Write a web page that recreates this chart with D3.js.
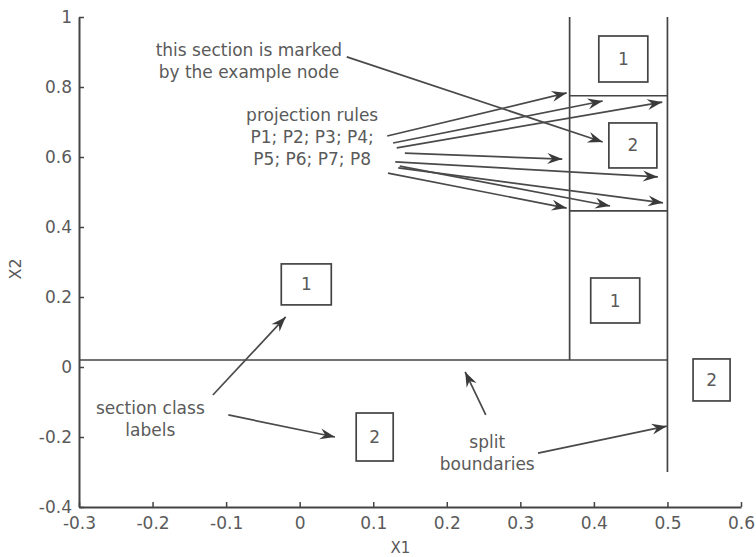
<!DOCTYPE html>
<html>
<head>
<meta charset="utf-8">
<script src="https://cdn.jsdelivr.net/npm/d3@7"></script>
<style>
  html, body { margin: 0; padding: 0; background: #ffffff; }
  svg { display: block; }
  text { font-family: "DejaVu Sans", "Liberation Sans", sans-serif; }
</style>
</head>
<body>
<svg id="chart" width="756" height="557"></svg>
<script>
// ---------------- data ----------------
const xTicks = [-0.3, -0.2, -0.1, 0, 0.1, 0.2, 0.3, 0.4, 0.5, 0.6];
const yTicks = [-0.4, -0.2, 0, 0.2, 0.4, 0.6, 0.8, 1];

// split boundaries: [x1, y1, x2, y2] in data units
const boundaries = [
  [-0.3, 0.02, 0.5, 0.02],
  [0.367, 0.02, 0.367, 1.0],
  [0.5, -0.3, 0.5, 1.0],
  [0.367, 0.775, 0.5, 0.775],
  [0.367, 0.446, 0.5, 0.446]
];

// section class labels: centre [x, y] and label
const classLabelX = [0.440, 0.453, 0.009, 0.429, 0.560, 0.102];
const classLabelY = [0.880, 0.633, 0.236, 0.190, -0.037, -0.200];
const classLabelText = ["1", "2", "1", "1", "2", "2"];

// annotation texts (centre x, y of first line)
const noteText = [
  ["this section is marked", "by the example node"],
  ["projection rules", "P1; P2; P3; P4;", "P5; P6; P7; P8"],
  ["section class", "labels"],
  ["split", "boundaries"]
];
const noteX = [-0.069, 0.017, -0.203, 0.255];
const noteY = [0.906, 0.720, -0.117, -0.214];

// annotation arrows: [x1, y1, x2(tip), y2(tip)]
const arrows = [
  [0.064, 0.886, 0.412, 0.643],
  [0.119, 0.660, 0.363, 0.783],
  [0.127, 0.640, 0.412, 0.760],
  [0.132, 0.626, 0.493, 0.757],
  [0.143, 0.611, 0.357, 0.594],
  [0.130, 0.586, 0.487, 0.543],
  [0.134, 0.569, 0.494, 0.469],
  [0.136, 0.574, 0.422, 0.460],
  [0.120, 0.554, 0.363, 0.454],
  [-0.118, -0.080, -0.019, 0.143],
  [-0.097, -0.137, 0.048, -0.200],
  [0.253, -0.137, 0.225, -0.014],
  [0.324, -0.246, 0.499, -0.169]
];

// ---------------- layout ----------------
const boxW = [49, 48, 50, 49, 37, 37];
const boxH = [46, 45, 41, 45, 42, 48];
const lineCol = "#444444";
const textCol = "#5a5a5a";
const fs = 17;

const svg = d3.select("#chart");
const x = d3.scaleLinear().domain([-0.3, 0.6]).range([79, 741]);
const y = d3.scaleLinear().domain([-0.4, 1]).range([507, 17]);

const fmt = d => String(+d.toFixed(1));

// arrow marker
svg.append("defs").append("marker")
  .attr("id", "ah")
  .attr("markerUnits", "userSpaceOnUse")
  .attr("viewBox", "-16 -7 17 14")
  .attr("refX", 0).attr("refY", 0)
  .attr("markerWidth", 17).attr("markerHeight", 14)
  .attr("orient", "auto")
  .append("path")
  .attr("d", "M0,0 L-15,-5.5 L-10,0 L-15,5.5 Z")
  .attr("fill", "#3a3a3a");

// axes
const gx = svg.append("g").attr("transform", `translate(0,${y(-0.4)})`)
  .call(d3.axisBottom(x).tickValues(xTicks).tickFormat(fmt)
    .tickSizeInner(-5).tickSizeOuter(0).tickPadding(10));
const gy = svg.append("g").attr("transform", `translate(${x(-0.3)},0)`)
  .call(d3.axisLeft(y).tickValues(yTicks).tickFormat(fmt)
    .tickSizeInner(-5).tickSizeOuter(0).tickPadding(7));
[gx, gy].forEach(g => {
  g.select(".domain").attr("stroke", lineCol).attr("stroke-width", 2);
  g.selectAll(".tick line").attr("stroke", lineCol).attr("stroke-width", 1.5);
  g.selectAll(".tick text").attr("fill", textCol)
    .style("font-size", fs + "px")
    .style("font-family", '"DejaVu Sans", sans-serif');
});

// axis titles
svg.append("text").attr("x", x(0.137)).attr("y", 553)
  .attr("text-anchor", "middle").attr("fill", textCol)
  .style("font-size", "15px").text("X1");
svg.append("text")
  .attr("transform", `translate(21,${y(0.28)}) rotate(-90)`)
  .attr("text-anchor", "middle").attr("fill", textCol)
  .style("font-size", "16px").text("X2");

// boundaries
svg.append("g").selectAll("line").data(boundaries).join("line")
  .attr("x1", d => x(d[0])).attr("y1", d => y(d[1]))
  .attr("x2", d => x(d[2])).attr("y2", d => y(d[3]))
  .attr("stroke", lineCol).attr("stroke-width", 1.7);

// class label boxes
const lab = svg.append("g").selectAll("g").data(classLabelText).join("g")
  .attr("transform", (d, i) => `translate(${x(classLabelX[i])},${y(classLabelY[i])})`);
lab.append("rect")
  .attr("x", (d, i) => -boxW[i] / 2).attr("y", (d, i) => -boxH[i] / 2)
  .attr("width", (d, i) => boxW[i]).attr("height", (d, i) => boxH[i])
  .attr("fill", "none").attr("stroke", lineCol).attr("stroke-width", 1.7);
lab.append("text").attr("text-anchor", "middle").attr("y", 6)
  .attr("fill", textCol).style("font-size", fs + "px").text(d => d);

// annotation arrows
svg.append("g").selectAll("line").data(arrows).join("line")
  .attr("x1", d => x(d[0])).attr("y1", d => y(d[1]))
  .attr("x2", d => x(d[2])).attr("y2", d => y(d[3]))
  .attr("stroke", "#4a4a4a").attr("stroke-width", 1.7)
  .attr("marker-end", "url(#ah)");

// annotation texts
noteText.forEach((lines, i) => {
  const t = svg.append("text").attr("text-anchor", "middle")
    .attr("fill", textCol).style("font-size", fs + "px");
  lines.forEach((s, j) => {
    t.append("tspan").attr("x", x(noteX[i]))
      .attr("y", y(noteY[i]) + 6 + j * 22).text(s);
  });
});
</script>
</body>
</html>
